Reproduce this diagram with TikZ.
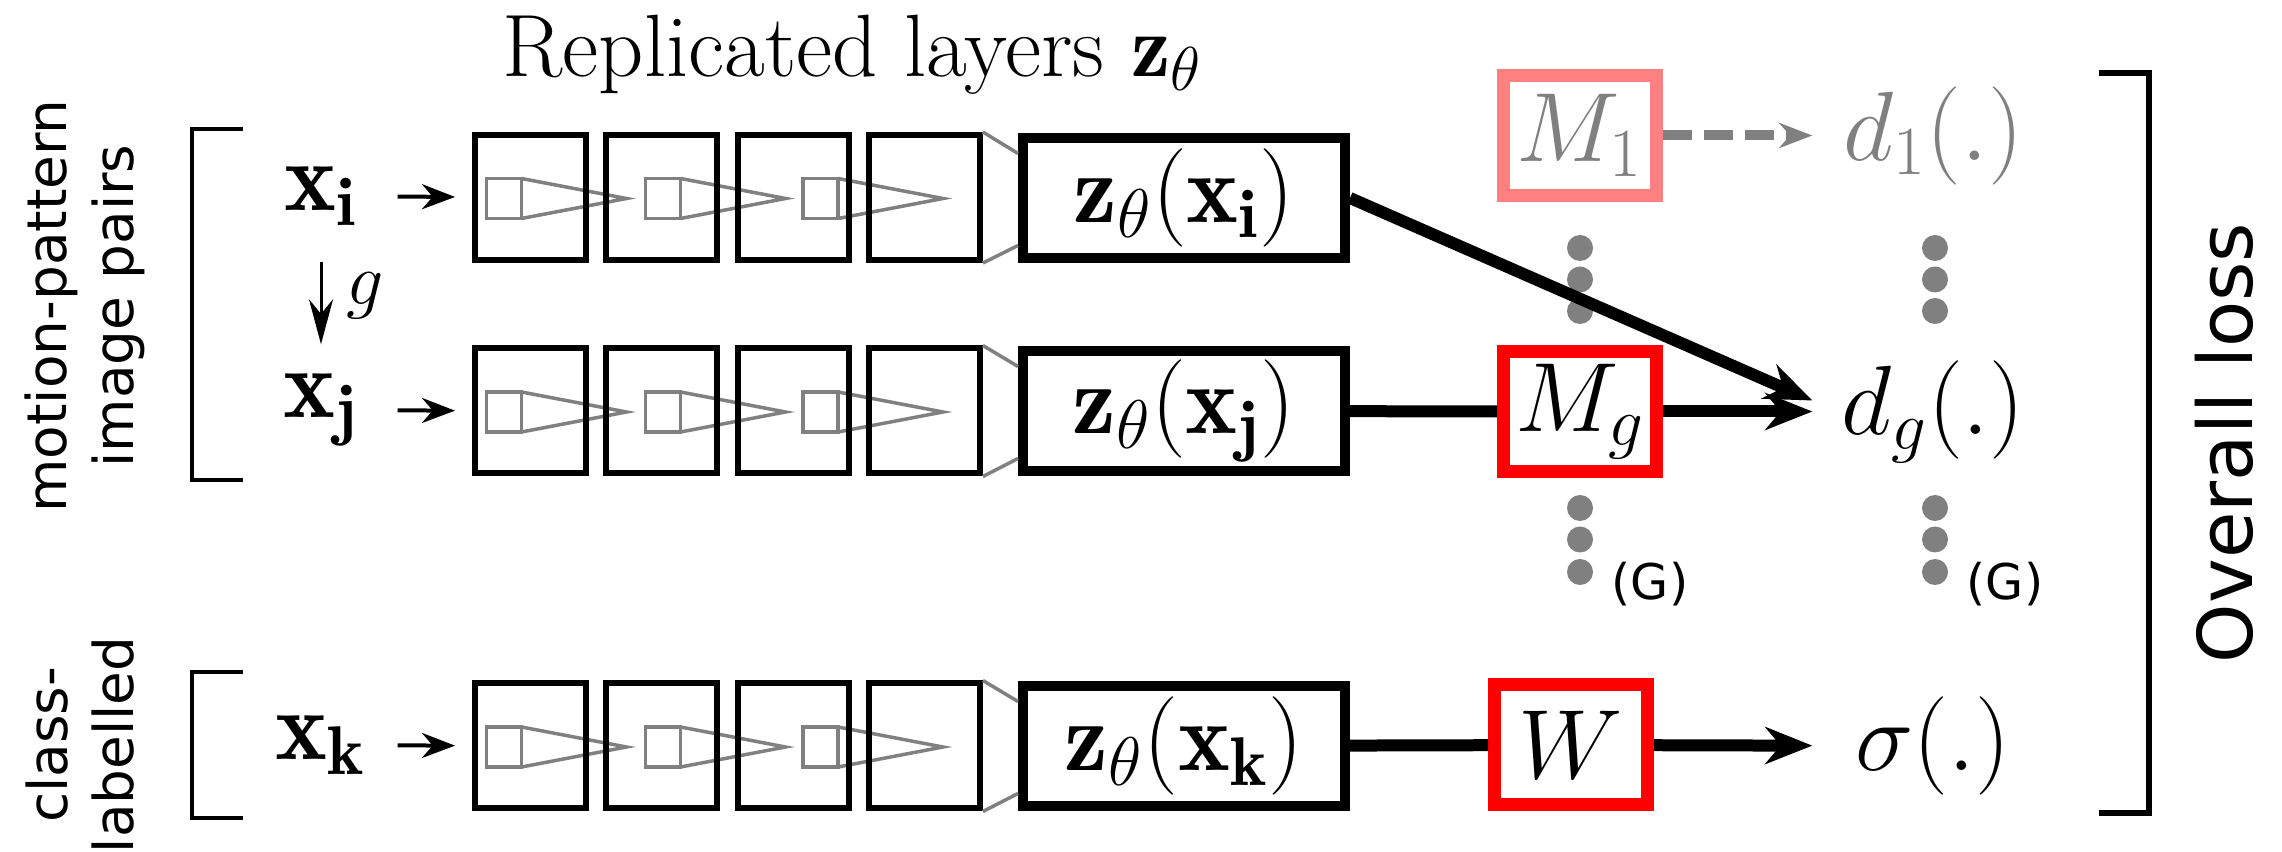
\RequirePackage{fix-cm}
\documentclass[tikz,border=0pt]{standalone}
\usepackage{fontspec}
\newfontfamily\sidefont{DejaVu Sans}
\newcommand\mathsz{\fontsize{28}{34}\selectfont}
\usetikzlibrary{positioning}
\usetikzlibrary{arrows.meta}
\tikzset{
    layer/.style = {draw=black, line width=0.06cm, minimum width=1.11cm, minimum height=1.25cm, inner sep=0},
    kern/.style = {draw=gray, line width=0.035cm, minimum width=0.35cm, minimum height=0.40cm, inner sep=0, outer sep=0},
    kernl/.style = {-, gray, line width=0.035cm},
    zbox/.style = {draw=black, line width=0.10cm, minimum width=3.22cm, minimum height=1.20cm, inner sep=0, font=\mathsz},
    mbox/.style = {draw=red, line width=0.13cm, minimum width=1.53cm, minimum height=1.20cm, inner sep=0, font=\mathsz},
    mboxl/.style = {mbox, draw=red!50, text=gray},
    inp/.style = {minimum width=1.52cm, minimum height=1.30cm, inner sep=0, font=\mathsz},
    outp/.style = {minimum width=2.40cm, inner sep=0, font=\mathsz},
    sidelab/.style = {rotate=90, align=center, font=\sidefont\fontsize{15.6}{19}\selectfont},
    edgen/.style = {-, line width=0.12cm, black},
    edgea/.style = {edgen, -{Stealth[length=0.47cm,width=0.37cm]}},
    edged/.style = {line width=0.10cm, gray, dash pattern=on 0.29cm off 0.12cm, -{Stealth[length=0.33cm,width=0.25cm]}},
    edgei/.style = {line width=0.04cm, black, shorten >=0.17cm, -{Stealth[length=0.33cm,width=0.25cm]}},
    edgeg/.style = {line width=0.03cm, black, -{Stealth[length=0.45cm,width=0.24cm]}},
    brack/.style = {-, line width=0.045cm, black},
    dotg/.style = {fill=gray}
}

\begin{document}
\begin{tikzpicture}[scale=1.00]
\useasboundingbox (0,0) rectangle (22.82,-8.52);
\node[anchor=base west, inner sep=0, font=\fontsize{25.2}{30}\selectfont] at (5.02,-0.77) (title) {Replicated layers $\mathbf{z}_\theta$};
\node[sidelab] at (0.85,-3.06) (pairs) {motion-pattern\\image pairs};
\node[sidelab] at (0.80,-7.45) (cls) {class-\\labelled};
\draw[brack] (2.43,-1.29) -| (1.92,-4.80) -- (2.43,-4.80);
\draw[brack] (2.43,-6.72) -| (1.92,-8.18) -- (2.43,-8.18);
%
\node[inp] at (3.21,-1.96) (xi) {$\mathbf{x_i}$};
\node[inp] at (3.21,-4.10) (xj) {$\mathbf{x_j}$};
\node[inp] at (3.21,-7.45) (xk) {$\mathbf{x_k}$};
\draw[edgeg] (xi) -- node[right=0.12cm, yshift=0.07cm, font=\fontsize{21}{25}\selectfont] (g) {$g$} (xj);
%
\node[kern] at (5.04,-1.985) (k11) {};
\node[kern] at (6.63,-1.985) (k12) {};
\node[kern] at (8.205,-1.985) (k13) {};
\node[kern] at (5.04,-4.12) (k21) {};
\node[kern] at (6.63,-4.12) (k22) {};
\node[kern] at (8.205,-4.12) (k23) {};
\node[kern] at (5.04,-7.47) (k31) {};
\node[kern] at (6.63,-7.47) (k32) {};
\node[kern] at (8.205,-7.47) (k33) {};
\draw[kernl] (k11.north east) -- ++(1.05,-0.2) -- (k11.south east);
\draw[kernl] (k12.north east) -- ++(1.05,-0.2) -- (k12.south east);
\draw[kernl] (k13.north east) -- ++(1.05,-0.2) -- (k13.south east);
\draw[kernl] (k21.north east) -- ++(1.05,-0.2) -- (k21.south east);
\draw[kernl] (k22.north east) -- ++(1.05,-0.2) -- (k22.south east);
\draw[kernl] (k23.north east) -- ++(1.05,-0.2) -- (k23.south east);
\draw[kernl] (k31.north east) -- ++(1.05,-0.2) -- (k31.south east);
\draw[kernl] (k32.north east) -- ++(1.05,-0.2) -- (k32.south east);
\draw[kernl] (k33.north east) -- ++(1.05,-0.2) -- (k33.south east);
%
\node[layer] at (5.305,-1.975) (b11) {};
\node[layer] at (6.618,-1.975) (b12) {};
\node[layer] at (7.931,-1.975) (b13) {};
\node[layer] at (9.244,-1.975) (b14) {};
\node[layer] at (5.305,-4.11) (b21) {};
\node[layer] at (6.618,-4.11) (b22) {};
\node[layer] at (7.931,-4.11) (b23) {};
\node[layer] at (9.244,-4.11) (b24) {};
\node[layer] at (5.305,-7.46) (b31) {};
\node[layer] at (6.618,-7.46) (b32) {};
\node[layer] at (7.931,-7.46) (b33) {};
\node[layer] at (9.244,-7.46) (b34) {};
\draw[edgei] (xi) -- (b11);
\draw[edgei] (xj) -- (b21);
\draw[edgei] (xk) -- (b31);
%
\node[zbox] at (11.84,-1.98) (z1) {$\mathbf{z}_\theta(\mathbf{x_i})$};
\node[zbox] at (11.84,-4.11) (z2) {$\mathbf{z}_\theta(\mathbf{x_j})$};
\node[zbox] at (11.84,-7.46) (z3) {$\mathbf{z}_\theta(\mathbf{x_k})$};
\draw[kernl] (b14.north east) -- ([yshift=0.445cm]z1.west);
\draw[kernl] (b14.south east) -- ([yshift=-0.475cm]z1.west);
\draw[kernl] (b24.north east) -- ([yshift=0.445cm]z2.west);
\draw[kernl] (b24.south east) -- ([yshift=-0.475cm]z2.west);
\draw[kernl] (b34.north east) -- ([yshift=0.445cm]z3.west);
\draw[kernl] (b34.south east) -- ([yshift=-0.475cm]z3.west);
%
\node[mboxl] at (15.80,-1.355) (M1) {$M_1$};
\node[mbox] at (15.80,-4.115) (Mg) {$M_g$};
\node[mbox] at (15.71,-7.45) (W) {$W$};
\node[outp, text=gray] at (19.33,-1.355) (d1) {$d_1(.)$};
\node[outp] at (19.33,-4.115) (dg) {$d_g(.)$};
\node[outp] at (19.33,-7.46) (sig) {$\sigma(.)$};
%
\fill[dotg] (15.80,-2.48) circle (0.13) (15.80,-2.795) circle (0.13) (15.80,-3.11) circle (0.13);
\fill[dotg] (19.35,-2.48) circle (0.13) (19.35,-2.795) circle (0.13) (19.35,-3.11) circle (0.13);
\fill[dotg] (15.80,-5.08) circle (0.13) (15.80,-5.395) circle (0.13) (15.80,-5.72) circle (0.13);
\fill[dotg] (19.35,-5.08) circle (0.13) (19.35,-5.395) circle (0.13) (19.35,-5.72) circle (0.13);
\node[font=\sidefont\fontsize{14}{17}\selectfont] at (16.50,-5.84) (G1) {(G)};
\node[font=\sidefont\fontsize{14}{17}\selectfont] at (20.05,-5.84) (G2) {(G)};
%
\draw[edged] (M1) -- (d1);
\draw[edgen] (z2) -- (Mg);
\draw[edgea] (Mg) -- (dg);
\draw[edgea] (z1.east) -- ([yshift=0.11cm]dg.west);
\draw[edgen] (z3) -- (W);
\draw[edgea] (W) -- (sig);
%
\draw[brack, line width=0.055cm] (20.99,-0.73) -| (21.49,-8.13) -- (20.99,-8.13);
\node[rotate=90, font=\sidefont\fontsize{21.5}{26}\selectfont] at (22.24,-4.43) (loss) {Overall loss};
\end{tikzpicture}
\end{document}
